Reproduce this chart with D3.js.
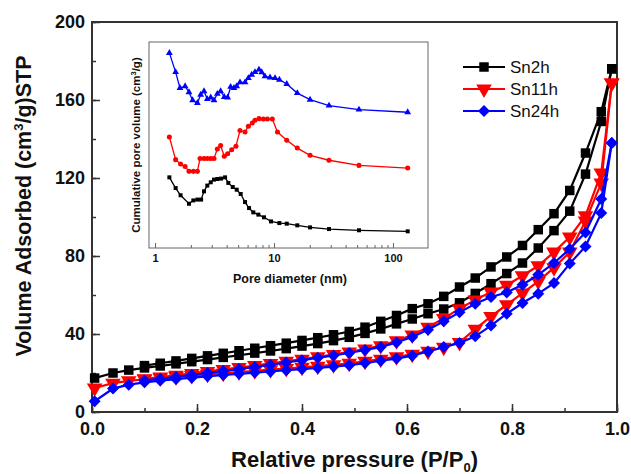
<!DOCTYPE html>
<html>
<head>
<meta charset="utf-8">
<script src="https://cdn.jsdelivr.net/npm/d3@7"></script>
<style>
body { margin: 0; background: #fff; }
text { font-family: "Liberation Sans", Arial, sans-serif; font-weight: bold; }
</style>
</head>
<body>
<div id="chart"></div>
<script>
// isotherm data, relative pressure P/P0
var adsP = [0.005, 0.04, 0.07, 0.10, 0.13, 0.16, 0.19, 0.22, 0.25, 0.28, 0.31, 0.34, 0.37, 0.40, 0.43, 0.46, 0.49, 0.52, 0.55, 0.58, 0.61, 0.64, 0.67, 0.70, 0.73, 0.76, 0.79, 0.82, 0.85, 0.88, 0.91, 0.94, 0.97, 0.99]
var desP = [0.99, 0.97, 0.94, 0.91, 0.88, 0.85, 0.82, 0.79, 0.76, 0.73, 0.70, 0.67, 0.64, 0.61, 0.58, 0.55, 0.52, 0.49, 0.46, 0.43, 0.40, 0.37, 0.34, 0.31, 0.28, 0.25, 0.22, 0.19, 0.16, 0.13, 0.10]

var sn2hAds = [17.4, 20.0, 21.5, 22.6, 23.6, 24.7, 25.8, 26.9, 28.0, 29.1, 30.2, 31.3, 32.5, 33.8, 35.1, 36.6, 38.3, 40.3, 42.6, 45.2, 47.7, 50.4, 52.8, 56.0, 60.8, 65.8, 71.0, 76.4, 84.1, 93.0, 103.0, 122.0, 149.0, 176.0]
var sn2hDes = [176.0, 154.0, 132.8, 113.6, 101.7, 93.5, 85.4, 79.5, 74.4, 68.7, 64.1, 59.3, 55.5, 53.0, 49.5, 46.5, 43.5, 41.3, 39.6, 38.1, 36.7, 35.3, 34.0, 32.7, 31.4, 30.1, 28.8, 27.5, 26.2, 25.0, 23.8]
var sn11hAds = [12.3, 14.8, 16.0, 16.8, 17.5, 18.1, 18.7, 19.3, 19.9, 20.5, 21.1, 21.7, 22.3, 22.9, 23.5, 24.2, 25.0, 26.0, 27.1, 28.3, 29.6, 31.2, 33.2, 35.7, 42.5, 49.0, 55.0, 61.0, 67.0, 74.0, 82.0, 98.0, 117.4, 168.7]
var sn11hDes = [168.7, 122.6, 100.7, 89.7, 82.0, 75.0, 69.9, 65.0, 61.5, 57.5, 53.0, 48.0, 43.5, 39.5, 36.5, 34.0, 32.3, 30.8, 29.5, 28.3, 27.1, 26.0, 24.9, 23.8, 22.8, 21.8, 20.8, 19.8, 18.8, 17.9, 17.0]
var sn24hAds = [5.5, 12.0, 14.0, 15.2, 16.1, 16.9, 17.6, 18.3, 19.0, 19.6, 20.2, 20.8, 21.4, 22.0, 22.6, 23.3, 24.0, 25.1, 26.3, 27.4, 28.9, 31.0, 33.3, 35.4, 38.8, 44.3, 50.4, 55.9, 60.7, 66.1, 76.1, 84.9, 102.0, 138.0]
var sn24hDes = [138.0, 109.2, 92.1, 83.6, 76.4, 70.4, 65.3, 61.3, 59.0, 55.5, 51.1, 46.5, 42.2, 38.5, 35.7, 33.3, 31.8, 30.3, 29.0, 27.8, 26.6, 25.4, 24.2, 23.1, 22.0, 21.0, 20.0, 19.0, 18.0, 17.0, 16.2]

var seriesNames = ["Sn2h", "Sn11h", "Sn24h"]
var xTicks = [0.0, 0.2, 0.4, 0.6, 0.8, 1.0]
var yTicks = [0, 40, 80, 120, 160, 200]

// inset: pore diameter (nm) vs cumulative pore volume (arb. offset units)
var poreBlack = [1.32, 1.49, 1.64, 1.93, 2.10, 2.27, 2.44, 2.58, 2.75, 2.94, 3.13, 3.34, 3.59, 3.88, 4.13, 4.50, 4.86, 5.25, 5.71, 6.17, 6.70, 7.39, 8.24, 9.44, 11.1, 12.8, 15.7, 20.1, 29.0, 51.8, 133]
var volBlack = [34.3, 29.1, 25.6, 21.5, 23.1, 23.5, 23.5, 27.5, 30.3, 31.9, 33.2, 33.5, 33.7, 34.3, 31.6, 29.6, 28.3, 26.2, 22.3, 19.4, 17.3, 16.2, 14.9, 12.9, 12.1, 11.8, 11.0, 10.0, 9.2, 8.6, 8.1]
var poreRed = [1.32, 1.49, 1.64, 1.79, 1.93, 2.10, 2.27, 2.39, 2.58, 2.75, 2.94, 3.13, 3.34, 3.56, 3.82, 4.08, 4.41, 4.79, 5.18, 5.71, 6.09, 6.57, 6.92, 7.48, 8.14, 8.79, 9.68, 10.7, 12.8, 15.7, 20.1, 29.0, 51.8, 133]
var volRed = [53.9, 42.9, 40.8, 39.6, 37.2, 37.2, 37.2, 43.4, 43.4, 43.4, 43.4, 43.4, 48.1, 49.7, 44.5, 45.8, 47.7, 49.4, 57.0, 56.3, 59.1, 60.7, 62.0, 62.8, 62.6, 62.6, 62.6, 56.3, 52.3, 48.5, 45.0, 42.6, 40.1, 38.8]
var poreBlue = [1.32, 1.49, 1.62, 1.79, 1.93, 2.07, 2.27, 2.42, 2.58, 2.75, 2.94, 3.13, 3.34, 3.56, 3.82, 4.08, 4.32, 4.61, 4.86, 5.18, 5.71, 6.09, 6.49, 6.92, 7.48, 7.88, 8.40, 9.26, 10.2, 11.1, 12.8, 15.7, 20.1, 29.0, 51.8, 133]
var volBlue = [94.7, 85.4, 77.7, 78.5, 75.6, 71.7, 70.4, 74.4, 76.1, 72.3, 73.1, 71.7, 74.8, 76.1, 73.3, 73.1, 78.2, 77.7, 78.5, 80.4, 80.4, 82.5, 84.1, 85.4, 86.6, 85.3, 83.3, 82.8, 82.5, 81.7, 79.6, 75.2, 72.0, 69.1, 67.2, 65.9]
var insetTicks = [1, 10, 100]

var colors = ["#000000", "#ff0000", "#0000ff"]

var width = 631, height = 474
var svg = d3.select("#chart")
    .append("svg")
    .attr("width", width)
    .attr("height", height)

// plot box (window.top is read-only, so no bare "top")
var mL = 92, mR = 617, mT = 22, mB = 412

var x = d3.scaleLinear().domain([0, 1]).range([mL, mR])
var y = d3.scaleLinear().domain([0, 200]).range([mB, mT])

// main ticks (inward)
svg.append("g")
    .attr("transform", "translate(0," + mB + ")")
    .call(d3.axisBottom(x).tickValues(d3.range(0, 1.01, 0.1)).tickSize(-4).tickFormat(""))
    .call(g => g.select(".domain").remove())
    .selectAll("line").attr("stroke", "#333").attr("stroke-width", 1.5)
svg.append("g")
    .attr("transform", "translate(0," + mB + ")")
    .call(d3.axisBottom(x).tickValues(xTicks).tickSize(-8).tickFormat(d3.format(".1f")))
    .call(g => g.select(".domain").remove())
    .call(g => g.selectAll("line").attr("stroke", "#333").attr("stroke-width", 1.5))
    .call(g => g.selectAll("text").attr("font-size", 18).attr("fill", "#111").attr("dy", "0.75em").attr("y", 9))

svg.append("g")
    .attr("transform", "translate(" + mL + ",0)")
    .call(d3.axisLeft(y).tickValues(d3.range(0, 201, 20)).tickSize(-4).tickFormat(""))
    .call(g => g.select(".domain").remove())
    .selectAll("line").attr("stroke", "#333").attr("stroke-width", 1.5)
svg.append("g")
    .attr("transform", "translate(" + mL + ",0)")
    .call(d3.axisLeft(y).tickValues(yTicks).tickSize(-8).tickPadding(7))
    .call(g => g.select(".domain").remove())
    .call(g => g.selectAll("line").attr("stroke", "#333").attr("stroke-width", 1.5))
    .call(g => g.selectAll("text").attr("font-size", 18).attr("fill", "#111").attr("x", -7))

// frame
svg.append("rect")
    .attr("x", mL)
    .attr("y", mT)
    .attr("width", mR - mL)
    .attr("height", mB - mT)
    .attr("fill", "none")
    .attr("stroke", "#333")
    .attr("stroke-width", 2)

// axis titles
var xt = svg.append("text")
    .attr("x", (mL + mR) / 2)
    .attr("y", 467)
    .attr("text-anchor", "middle")
    .attr("font-size", 22)
    .attr("fill", "#111")
xt.append("tspan").text("Relative pressure (P/P")
xt.append("tspan").attr("font-size", 13).attr("dy", 5).text("0")
xt.append("tspan").attr("dy", -5).text(")")

var yt = svg.append("text")
    .attr("transform", "translate(31,206) rotate(-90)")
    .attr("text-anchor", "middle")
    .attr("font-size", 21.5)
    .attr("fill", "#111")
yt.append("tspan").text("Volume Adsorbed (cm")
yt.append("tspan").attr("font-size", 13).attr("dy", -8).text("3")
yt.append("tspan").attr("dy", 8).text("/g)STP")

// markers: square, down-triangle, diamond
var markerPaths = [
    d3.symbol().type(d3.symbolSquare).size(90)(),
    d3.symbol().type(d3.symbolTriangle).size(105)(),
    d3.symbol().type(d3.symbolSquare).size(72)()
]
var markerTurn = [0, 180, 45]

var line = d3.line().x(d => x(d[0])).y(d => y(d[1]))
var allSeries = [
    [sn2hAds, sn2hDes],
    [sn11hAds, sn11hDes],
    [sn24hAds, sn24hDes]
]

allSeries.forEach(function (s, i) {
    var g = svg.append("g")
    var branches = [adsP.map((p, j) => [p, s[0][j]]), desP.map((p, j) => [p, s[1][j]])]
    branches.forEach(function (b) {
        g.append("path")
            .attr("d", line(b))
            .attr("fill", "none")
            .attr("stroke", colors[i])
            .attr("stroke-width", 2.2)
        g.selectAll(null)
            .data(b)
            .enter()
            .append("path")
            .attr("transform", d => "translate(" + x(d[0]) + "," + y(d[1]) + ") rotate(" + markerTurn[i] + ")")
            .attr("d", markerPaths[i])
            .attr("fill", colors[i])
    })
})

// legend
var legY = [67, 89, 111]
seriesNames.forEach(function (name, i) {
    svg.append("line")
        .attr("x1", 463).attr("x2", 505)
        .attr("y1", legY[i]).attr("y2", legY[i])
        .attr("stroke", colors[i])
        .attr("stroke-width", 2.2)
    svg.append("path")
        .attr("transform", "translate(484," + legY[i] + ") rotate(" + markerTurn[i] + ")")
        .attr("d", markerPaths[i])
        .attr("fill", colors[i])
    svg.append("text")
        .attr("x", 510)
        .attr("y", legY[i] + 6)
        .attr("font-size", 17)
        .style("font-weight", "normal")
        .attr("fill", "#111")
        .text(name)
})

// inset
var iL = 149, iR = 428, iT = 42, iB = 248
var ix = d3.scaleLog().domain([0.89, 197]).range([iL, iR])
var iy = d3.scaleLinear().domain([0, 100]).range([iB, iT])

svg.append("rect")
    .attr("x", iL).attr("y", iT)
    .attr("width", iR - iL).attr("height", iB - iT)
    .attr("fill", "#fff")
    .attr("stroke", "#666")
    .attr("stroke-width", 1)

var minorTicks = []
insetTicks.forEach(function (t) { d3.range(2, 10).forEach(function (k) { if (t * k < 197) minorTicks.push(t * k) }) })
svg.append("g")
    .attr("transform", "translate(0," + iB + ")")
    .call(d3.axisBottom(ix).tickValues(minorTicks).tickSize(-3).tickFormat(""))
    .call(g => g.select(".domain").remove())
    .selectAll("line").attr("stroke", "#666")
svg.append("g")
    .attr("transform", "translate(0," + iB + ")")
    .call(d3.axisBottom(ix).tickValues(insetTicks).tickSize(-5).tickFormat(d3.format("d")))
    .call(g => g.select(".domain").remove())
    .call(g => g.selectAll("line").attr("stroke", "#666"))
    .call(g => g.selectAll("text").attr("font-size", 11).attr("fill", "#111").attr("y", 6))

svg.append("text")
    .attr("x", 290)
    .attr("y", 283)
    .attr("text-anchor", "middle")
    .attr("font-size", 12.5)
    .attr("fill", "#111")
    .text("Pore diameter (nm)")

var iyt = svg.append("text")
    .attr("transform", "translate(140," + ((iT + iB) / 2) + ") rotate(-90)")
    .attr("text-anchor", "middle")
    .attr("font-size", 11.5)
    .attr("fill", "#111")
iyt.append("tspan").text("Cumulative pore volume (cm")
iyt.append("tspan").attr("font-size", 7.5).attr("dy", -4).text("3")
iyt.append("tspan").attr("dy", 4).text("/g)")

var insetData = [
    [poreBlack, volBlack, d3.symbolSquare, 16],
    [poreRed, volRed, d3.symbolCircle, 20],
    [poreBlue, volBlue, d3.symbolTriangle, 20]
]
var iline = d3.line().x(d => ix(d[0])).y(d => iy(d[1]))
insetData.forEach(function (s, i) {
    var pts = s[0].map((p, j) => [p, s[1][j]])
    svg.append("path")
        .attr("d", iline(pts))
        .attr("fill", "none")
        .attr("stroke", colors[i])
        .attr("stroke-width", 1.3)
    svg.selectAll(null)
        .data(pts)
        .enter()
        .append("path")
        .attr("transform", d => "translate(" + ix(d[0]) + "," + iy(d[1]) + ")")
        .attr("d", d3.symbol().type(s[2]).size(s[3]))
        .attr("fill", colors[i])
})
</script>
</body>
</html>
